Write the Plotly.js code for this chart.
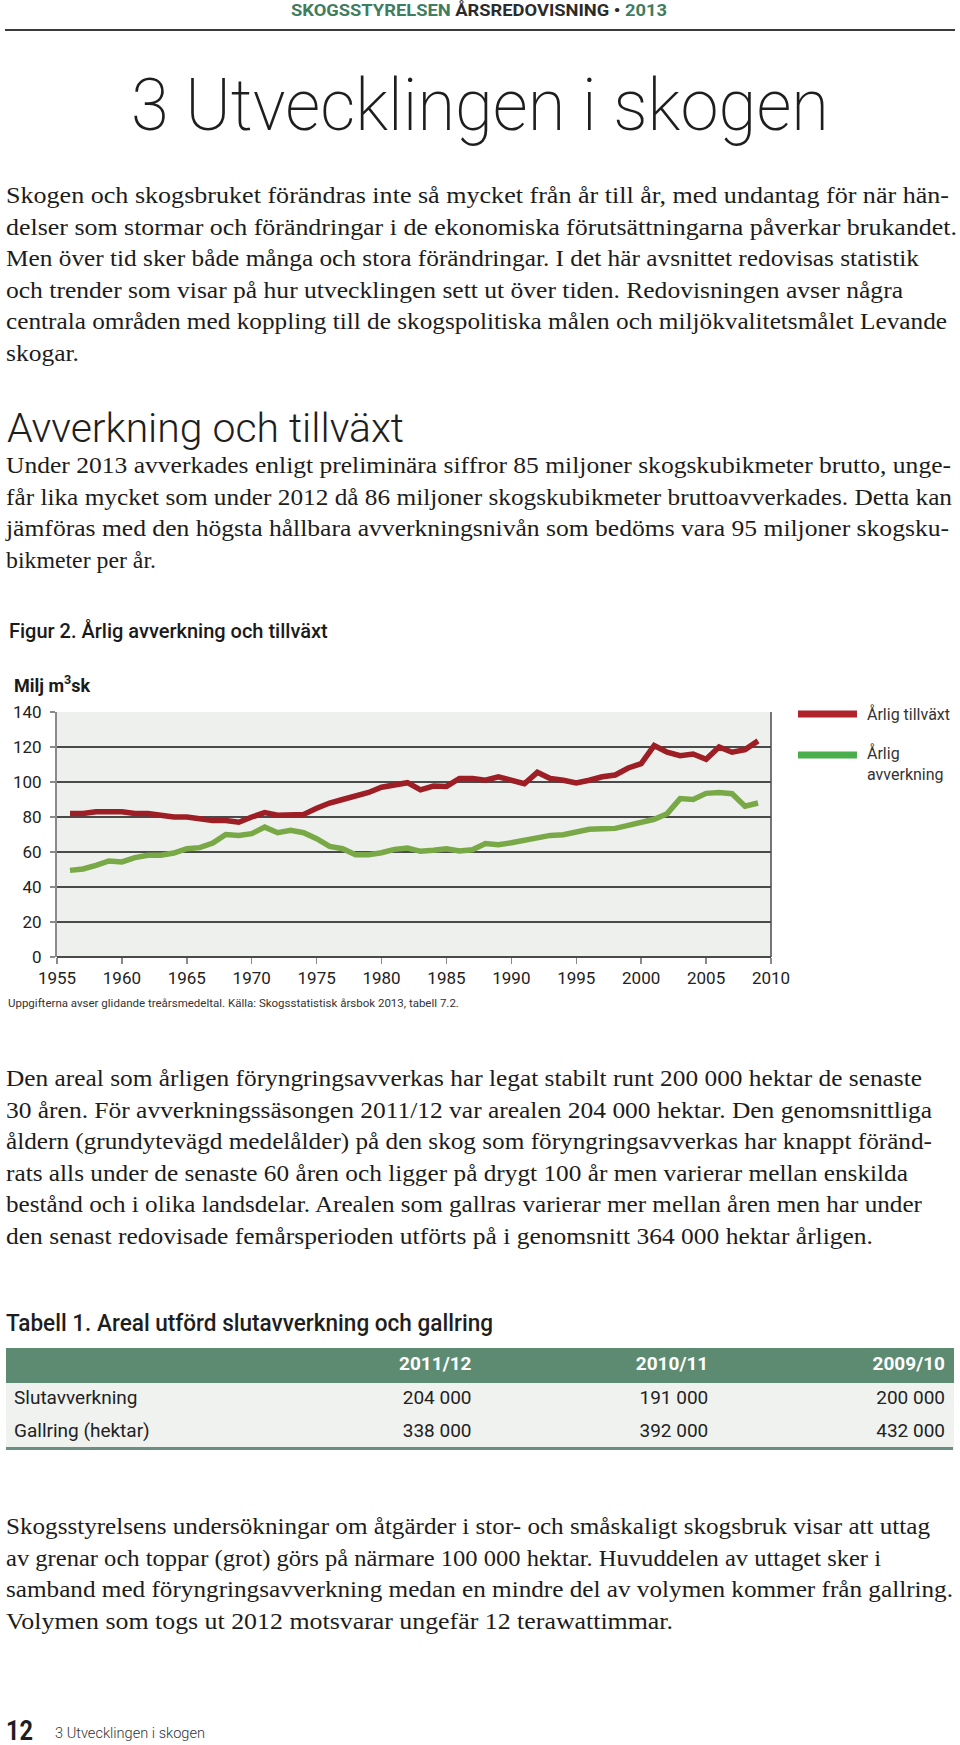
<!DOCTYPE html>
<html>
<head>
<meta charset="utf-8">
<script src="https://cdn.plot.ly/plotly-3.0.1.min.js"></script>
<style>
  html, body { margin:0; padding:0; background:#fff; }
  body { width:960px; height:1745px; position:relative; overflow:hidden; }
  .abs { position:absolute; white-space:nowrap; }
  .serif { font-family:"Liberation Serif", "DejaVu Serif", serif; font-size:24px; color:#1c1c1c; line-height:31.6px; }
  .serif div { white-space:nowrap; }
  .sans { font-family:Roboto, "Open Sans", sans-serif; }
  [data-w] { display:inline-block; transform-origin:left center; }
</style>
</head>
<body>

<div class="abs sans" style="left:291px; top:2px; font-size:17px; line-height:17px; font-weight:700;">
  <span data-w="376"><span style="color:#3f7d60">SKOGSSTYRELSEN</span> <span style="color:#2b2b2b">ÅRSREDOVISNING •</span> <span style="color:#3f7d60">2013</span></span>
</div>
<div class="abs" style="left:5px; top:29px; width:950px; height:2px; background:#3a3a3a;"></div>

<div class="abs sans" style="left:131px; top:70px; font-size:72px; line-height:72px; font-weight:200; color:#1e1e1e;">
  <span data-w="698">3 Utvecklingen i skogen</span>
</div>

<div class="abs serif" style="left:6px; top:180px;">
  <div><span data-w="943">Skogen och skogsbruket förändras inte så mycket från år till år, med undantag för när hän-</span></div>
  <div><span data-w="951">delser som stormar och förändringar i de ekonomiska förutsättningarna påverkar brukandet.</span></div>
  <div><span data-w="913">Men över tid sker både många och stora förändringar. I det här avsnittet redovisas statistik</span></div>
  <div><span data-w="897">och trender som visar på hur utvecklingen sett ut över tiden. Redovisningen avser några</span></div>
  <div><span data-w="941">centrala områden med koppling till de skogspolitiska målen och miljökvalitetsmålet Levande</span></div>
  <div><span data-w="73">skogar.</span></div>
</div>

<div class="abs sans" style="left:7px; top:408px; font-size:41px; line-height:41px; font-weight:300; color:#1e1e1e;">
  <span data-w="397">Avverkning och tillväxt</span>
</div>

<div class="abs serif" style="left:6px; top:450px;">
  <div><span data-w="945">Under 2013 avverkades enligt preliminära siffror 85 miljoner skogskubikmeter brutto, unge-</span></div>
  <div><span data-w="946">får lika mycket som under 2012 då 86 miljoner skogskubikmeter bruttoavverkades. Detta kan</span></div>
  <div><span data-w="943">jämföras med den högsta hållbara avverkningsnivån som bedöms vara 95 miljoner skogsku-</span></div>
  <div><span data-w="150">bikmeter per år.</span></div>
</div>

<div id="chart" class="abs" style="left:0; top:600px; width:960px; height:420px;"></div>

<div class="abs serif" style="left:6px; top:1063px;">
  <div><span data-w="916">Den areal som årligen föryngringsavverkas har legat stabilt runt 200 000 hektar de senaste</span></div>
  <div><span data-w="926">30 åren. För avverkningssäsongen 2011/12 var arealen 204 000 hektar. Den genomsnittliga</span></div>
  <div><span data-w="926">åldern (grundytevägd medelålder) på den skog som föryngringsavverkas har knappt föränd-</span></div>
  <div><span data-w="902">rats alls under de senaste 60 åren och ligger på drygt 100 år men varierar mellan enskilda</span></div>
  <div><span data-w="916">bestånd och i olika landsdelar. Arealen som gallras varierar mer mellan åren men har under</span></div>
  <div><span data-w="867">den senast redovisade femårsperioden utförts på i genomsnitt 364 000 hektar årligen.</span></div>
</div>

<div class="abs sans" style="left:6px; top:1311px; font-size:24px; line-height:24px; font-weight:500; color:#1e1e1e;">
  <span data-w="487">Tabell 1. Areal utförd slutavverkning och gallring</span>
</div>

<div id="table" class="abs" style="left:0; top:1348px; width:960px; height:104px;"></div>
<div class="abs" style="left:6px; top:1447px; width:947px; height:3px; background:#6b9080;"></div>

<div class="abs serif" style="left:6px; top:1511px;">
  <div><span data-w="924">Skogsstyrelsens undersökningar om åtgärder i stor- och småskaligt skogsbruk visar att uttag</span></div>
  <div><span data-w="875">av grenar och toppar (grot) görs på närmare 100 000 hektar. Huvuddelen av uttaget sker i</span></div>
  <div><span data-w="947">samband med föryngringsavverkning medan en mindre del av volymen kommer från gallring.</span></div>
  <div><span data-w="667">Volymen som togs ut 2012 motsvarar ungefär 12 terawattimmar.</span></div>
</div>

<div class="abs sans" style="left:6px; top:1718px; font-size:27px; line-height:27px; font-weight:700; color:#1e1e1e;">
  <span data-w="27">12</span>
</div>
<div class="abs sans" style="left:55px; top:1726px; font-size:14px; line-height:14px; font-weight:300; color:#333;">
  <span data-w="150">3 Utvecklingen i skogen</span>
</div>

<script>
// ---------- chart data ----------
const years = [1956,1957,1958,1959,1960,1961,1962,1963,1964,1965,1966,1967,1968,1969,1970,
  1971,1972,1973,1974,1975,1976,1977,1978,1979,1980,1981,1982,1983,1984,1985,1986,1987,1988,
  1989,1990,1991,1992,1993,1994,1995,1996,1997,1998,1999,2000,2001,2002,2003,2004,2005,2006,
  2007,2008,2009];
const arligTillvaxt = [82,82,83,83,83,82,82,81,80,80,79,78,78,77,80,
  82.5,81,81.5,81.5,85,88,90,92,94,97,98.5,99.6,95.5,97.7,97.5,102,102,101,
  103,101,99,105.5,102,101,99.4,101,103,104,108,110.5,120.8,117,115,116,113,120,
  117,118.5,123.5];
const arligAvverkning = [49.5,50.3,52.4,54.9,54.3,56.8,58.1,58.1,59.4,61.9,62.5,65.1,70,69.5,70.5,
  74.2,71,72.4,71,67.6,63.2,61.9,58.5,58.5,59.6,61.5,62.3,60.4,61,61.9,60.6,61.3,64.8,
  64.2,65.3,66.7,68.2,69.5,69.9,71.4,73,73.3,73.5,75.2,76.8,78.7,81.9,90.5,90,93.5,94,
  93.3,86.2,88];
const seriesNames = ['Årlig tillväxt', 'Årlig avverkning'];
const legendLabels = ['Årlig tillväxt', 'Årlig<br>avverkning'];
const xTicks = [1955,1960,1965,1970,1975,1980,1985,1990,1995,2000,2005,2010];
const yTicks = [0,20,40,60,80,100,120,140];
const chartTitle = 'Figur 2. Årlig avverkning och tillväxt';
const yUnit = 'Milj m<sup>3</sup>sk';
const sourceNote = 'Uppgifterna avser glidande treårsmedeltal. Källa: Skogsstatistisk årsbok 2013, tabell 7.2.';

// ---------- table data ----------
const tableHeaders = ['\u00a0', '2011/12', '2010/11', '2009/10'];
const tableRows = ['Slutavverkning', 'Gallring (hektar)'];
const col201112 = ['204 000', '338 000'];
const col201011 = ['191 000', '392 000'];
const col200910 = ['200 000', '432 000'];

const RED = '#9d1e24', GREEN = '#79a946';
const FONT = 'Roboto, "Open Sans", sans-serif';

const traces = [
  {x: years, y: arligTillvaxt, name: seriesNames[0], type: 'scatter', mode: 'lines',
   line: {color: RED, width: 5.5}, hoverinfo: 'skip'},
  {x: years, y: arligAvverkning, name: seriesNames[1], type: 'scatter', mode: 'lines',
   line: {color: GREEN, width: 5.5}, hoverinfo: 'skip'}
];

const layout = {
  width: 960, height: 420,
  margin: {l: 57, r: 189, t: 112, b: 63},
  paper_bgcolor: 'rgba(0,0,0,0)',
  plot_bgcolor: '#eef0ee',
  showlegend: false,
  font: {family: FONT, color: '#222'},
  title: {text: chartTitle, x: 9/960, xref: 'container', xanchor: 'left',
          y: 1 - 31/420, yref: 'container', yanchor: 'middle',
          font: {family: FONT, size: 20, weight: 500, color: '#1a1a1a'}},
  xaxis: {range: [1955, 2010], tickmode: 'array', tickvals: xTicks, ticktext: xTicks.map(String),
          showgrid: false, zeroline: false, showline: false,
          ticks: 'outside', ticklen: 6, tickwidth: 1.5, tickcolor: '#8a8a8a',
          ticklabelstandoff: 0,
          tickfont: {family: FONT, size: 17, color: '#222'}, fixedrange: true},
  yaxis: {range: [0, 140], tickmode: 'array', tickvals: yTicks, ticktext: yTicks.map(String),
          showgrid: true, gridcolor: '#4a4a4a', gridwidth: 1.5,
          zeroline: true, zerolinecolor: '#4a4a4a', zerolinewidth: 1.5,
          showline: true, linecolor: '#8a8a8a', linewidth: 2,
          ticks: 'outside', ticklen: 5, tickwidth: 1.5, tickcolor: '#8a8a8a',
          ticklabelstandoff: 5,
          tickfont: {family: FONT, size: 17, color: '#222'}, fixedrange: true},
  shapes: [
    {type: 'line', xref: 'paper', yref: 'paper', x0: 1, x1: 1, y0: 0, y1: 1,
     line: {color: '#4a4a4a', width: 1.5}},
    {type: 'line', xref: 'paper', yref: 'paper', x0: 1.0378, x1: 1.1204, y0: 0.992, y1: 0.992,
     line: {color: '#b0232a', width: 7}},
    {type: 'line', xref: 'paper', yref: 'paper', x0: 1.0378, x1: 1.1204, y0: 0.8245, y1: 0.8245,
     line: {color: '#4bae4d', width: 7}}
  ],
  annotations: [
    {text: yUnit, xref: 'paper', yref: 'paper', x: -0.063, y: 1.114, xanchor: 'left', yanchor: 'middle',
     showarrow: false, font: {family: FONT, size: 18, weight: 700, color: '#1a1a1a'}},
    {text: sourceNote, xref: 'paper', yref: 'paper', x: -0.0714, y: -0.1878, xanchor: 'left', yanchor: 'middle',
     showarrow: false, font: {family: FONT, size: 11.5, color: '#333'}},
    {text: legendLabels[0], xref: 'paper', yref: 'paper', x: 1.1317, y: 0.992, xanchor: 'left', yanchor: 'middle',
     showarrow: false, align: 'left', font: {family: FONT, size: 16, color: '#333'}},
    {text: legendLabels[1], xref: 'paper', yref: 'paper', x: 1.1317, y: 0.788, xanchor: 'left', yanchor: 'middle',
     showarrow: false, align: 'left', font: {family: FONT, size: 16, color: '#333'}}
  ]
};

Plotly.newPlot('chart', traces, layout, {displayModeBar: false, staticPlot: true});

const tableTrace = {
  type: 'table',
  columnwidth: [1, 1, 1, 1],
  header: {values: tableHeaders, align: ['left', 'right', 'right', 'right'],
           height: 34, fill: {color: '#5d8b72'}, line: {color: '#5d8b72', width: 1},
           font: {family: FONT, size: 19, weight: 700, color: '#ffffff'}},
  cells: {values: [tableRows, col201112, col201011, col200910],
          align: ['left', 'right', 'right', 'right'],
          height: 33, fill: {color: '#eff2ef'}, line: {color: '#eff2ef', width: 1},
          font: {family: FONT, size: 19, color: '#222'}}
};
Plotly.newPlot('table', [tableTrace], {
  width: 960, height: 104, margin: {l: 6, r: 7, t: 0, b: 0},
  paper_bgcolor: 'rgba(0,0,0,0)', font: {family: FONT}
}, {displayModeBar: false, staticPlot: true});

function fitAll() {
  document.querySelectorAll('[data-w]').forEach(el => {
    el.style.transform = 'none';
    const w = el.getBoundingClientRect().width;
    const target = parseFloat(el.getAttribute('data-w'));
    if (w > 0) el.style.transform = 'scaleX(' + (target / w) + ')';
  });
}
fitAll();
if (document.fonts && document.fonts.ready) document.fonts.ready.then(fitAll);
</script>
</body>
</html>
